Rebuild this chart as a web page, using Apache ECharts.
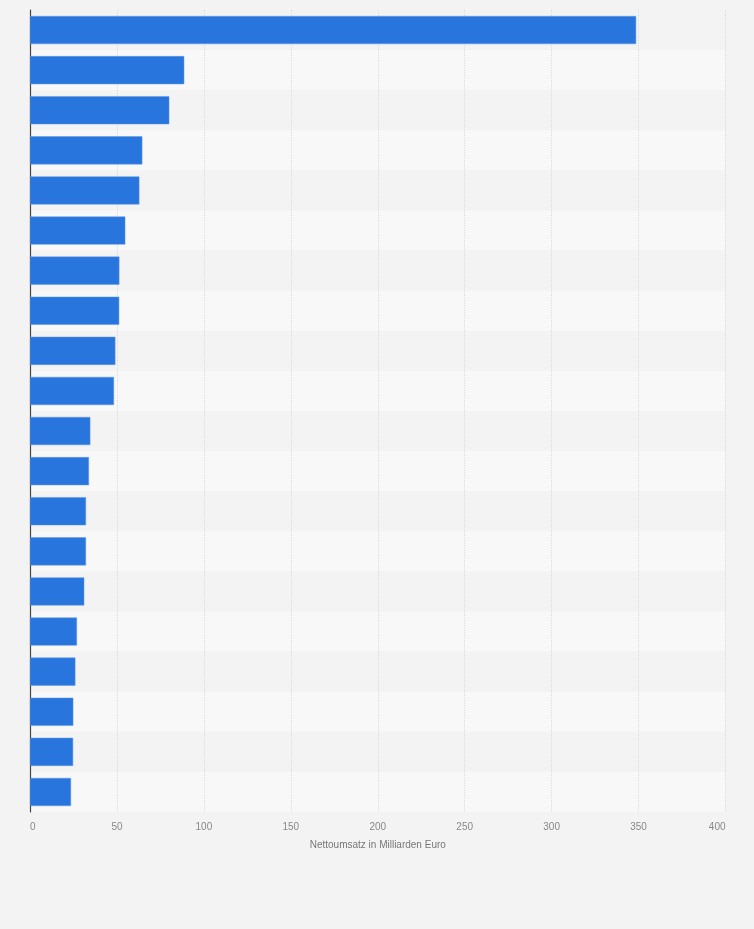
<!DOCTYPE html>
<html>
<head>
<meta charset="utf-8">
<script src="https://cdn.jsdelivr.net/npm/echarts@6/dist/echarts.min.js"></script>
<style>
  html, body { margin: 0; padding: 0; background: #f3f3f3; }
  #chart { width: 754px; height: 929px; }
</style>
</head>
<body>
<div id="chart"></div>
<script>
// category labels are not shown in the picture
const categories = [
  'Rang 1', 'Rang 2', 'Rang 3', 'Rang 4', 'Rang 5',
  'Rang 6', 'Rang 7', 'Rang 8', 'Rang 9', 'Rang 10',
  'Rang 11', 'Rang 12', 'Rang 13', 'Rang 14', 'Rang 15',
  'Rang 16', 'Rang 17', 'Rang 18', 'Rang 19', 'Rang 20'
];
const values = [
  348.6, 88.7, 80.1, 64.6, 62.9,
  54.8, 51.4, 51.3, 49.1, 48.3,
  34.7, 33.9, 32.2, 32.2, 31.2,
  27.0, 26.1, 24.9, 24.8, 23.6
];
const xTicks = { min: 0, max: 400, interval: 50 };
const axisTitle = 'Nettoumsatz in Milliarden Euro';

const chart = echarts.init(document.getElementById('chart'), null, { renderer: 'canvas' });

chart.setOption({
  backgroundColor: '#f3f3f3',
  animation: false,
  grid: {
    left: 30,
    right: 28.5,
    top: 10,
    bottom: 117,
    containLabel: false
  },
  xAxis: {
    type: 'value',
    min: xTicks.min,
    max: xTicks.max,
    interval: xTicks.interval,
    name: axisTitle,
    nameLocation: 'middle',
    nameGap: 28,
    nameTextStyle: { color: '#777', fontSize: 10, fontFamily: 'Arial, "Liberation Sans", sans-serif' },
    axisLine: { show: false },
    axisTick: { show: false },
    axisLabel: {
      color: '#888',
      fontSize: 10,
      margin: 10,
      fontFamily: 'Arial, "Liberation Sans", sans-serif',
      alignMinLabel: 'left',
      alignMaxLabel: 'right'
    },
    splitLine: {
      show: true,
      lineStyle: { color: '#d6d6d6', type: [1, 1.5], width: 1 }
    }
  },
  yAxis: {
    type: 'category',
    data: categories,
    inverse: true,
    axisLine: { show: true, lineStyle: { color: '#444', width: 1.2 } },
    axisTick: { show: false },
    axisLabel: { show: false },
    splitLine: { show: false },
    splitArea: {
      show: true,
      areaStyle: { color: ['#f3f3f3', '#f8f8f8'] }
    }
  },
  series: [
    {
      type: 'bar',
      data: values,
      barCategoryGap: '30%',
      itemStyle: {
        color: '#2876dd',
        borderColor: '#5c97e6',
        borderWidth: 0.5
      }
    }
  ]
});
</script>
</body>
</html>
